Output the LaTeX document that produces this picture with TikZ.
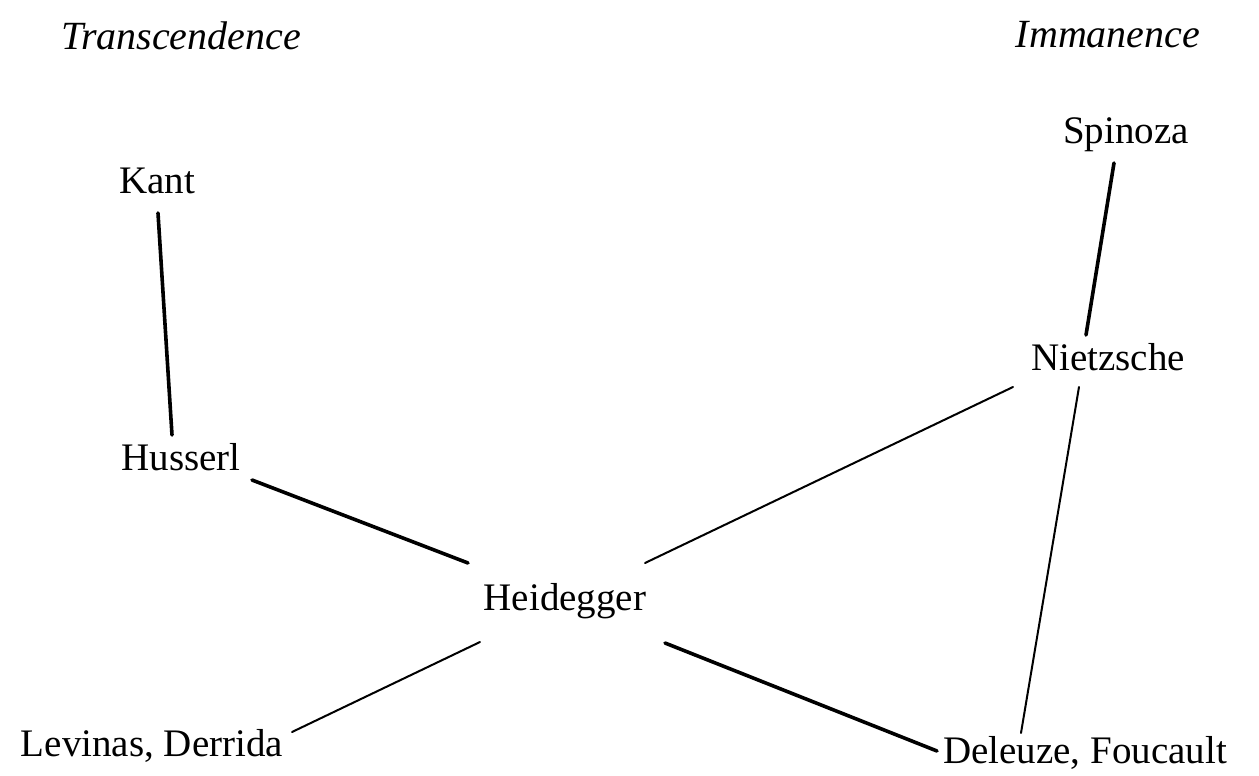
\documentclass[tikz,border=0pt]{standalone}
\usepackage{fontspec}
\setmainfont{Liberation Serif}
\usetikzlibrary{calc}
\begin{document}
\begin{tikzpicture}[x=1pt,y=1pt,
  lbl/.style={anchor=base,inner sep=0pt,font=\fontsize{39}{46}\selectfont},
  head/.style={anchor=base,inner sep=0pt,font=\fontsize{40}{46}\selectfont\itshape},
  heavy/.style={line width=3.6pt,line cap=round},
  light/.style={line width=2pt,line cap=round}]
\useasboundingbox[fill=white] (0,0) rectangle (1259,-776);
\node[head] (trans) at (181,-50) {Transcendence};
\node[head] (imm) at (1108,-48) {Immanence};
\node[lbl] (kant) at (157,-193) {Kant};
\node[lbl] (spinoza) at (1126,-143) {Spinoza};
\node[lbl] (nietzsche) at (1108,-370) {Nietzsche};
\node[lbl] (husserl) at (181,-470) {Husserl};
\node[lbl] (heidegger) at (565,-610) {Heidegger};
\node[lbl] (levinas) at (152,-756) {Levinas, Derrida};
\node[lbl] (deleuze) at (1085,-763) {Deleuze, Foucault};
\draw[heavy] ($(kant.base)+(1,-20)$) -- ($(husserl.base)+(-9,35)$);
\draw[heavy] ($(spinoza.base)+(-12,-20)$) -- ($(nietzsche.base)+(-22,35)$);
\draw[heavy] ($(husserl.base)+(71,-10)$) -- ($(heidegger.base)+(-97,47)$);
\draw[light] ($(nietzsche.base)+(-95,-17)$) -- ($(heidegger.base)+(80,47)$);
\draw[light] ($(nietzsche.base)+(-29,-17)$) -- ($(deleuze.base)+(-64,30)$);
\draw[light] ($(heidegger.base)+(-85,-32)$) -- ($(levinas.base)+(140,24)$);
\draw[heavy] ($(heidegger.base)+(100,-33)$) -- ($(deleuze.base)+(-148,12)$);
\end{tikzpicture}
\end{document}
